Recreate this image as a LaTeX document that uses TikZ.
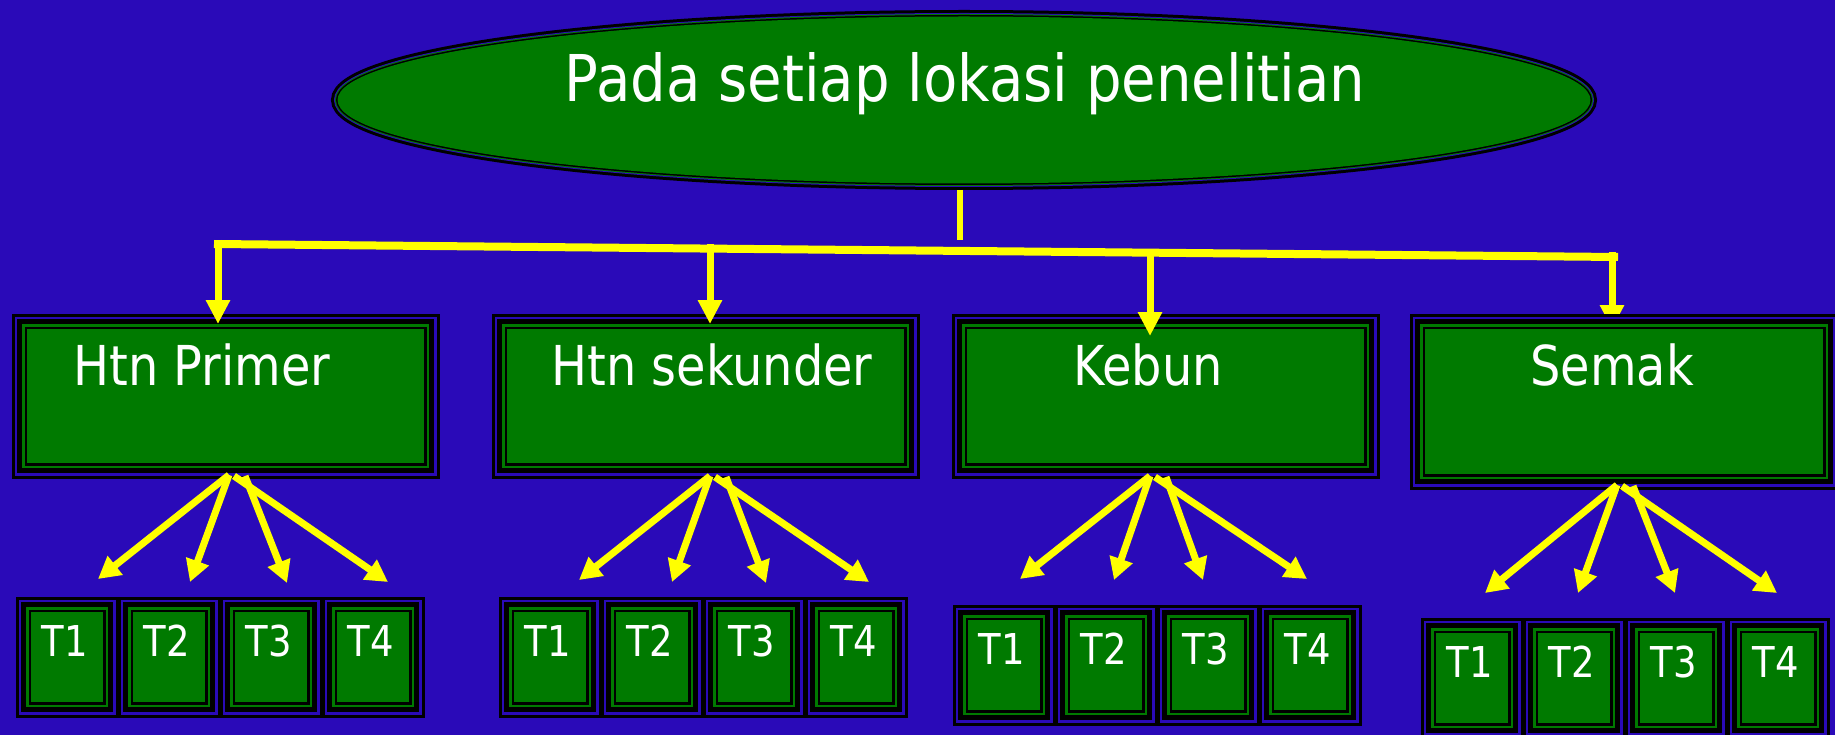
\documentclass[tikz,border=0pt]{standalone}
\usepackage{fontspec}
\setmainfont{DejaVu Sans}[FakeStretch=0.87]
\usetikzlibrary{shapes.geometric,arrows.meta,calc}

\definecolor{bgblue}{RGB}{42,10,184}
\definecolor{boxgreen}{RGB}{0,122,0}
\definecolor{lineyellow}{RGB}{255,255,0}

\pgfdeclarelayer{backdrop}
\pgfdeclarelayer{under}
\pgfsetlayers{backdrop,under,main}

\tikzset{
  % green box with a layered black / green / black / gap / black frame
  framed/.style={rectangle, inner sep=0pt, outer sep=0pt, fill=boxgreen,
    anchor=north west,
    preaction={draw=black, line width=31pt},
    preaction={draw=bgblue, line width=25pt},
    preaction={draw=black, line width=20pt},
    preaction={draw=boxgreen, line width=10pt},
    preaction={draw=black, line width=5pt}},
  mainbox/.style={framed, minimum width=397pt, minimum height=134pt},
  tbox/.style={framed, minimum width=72pt, minimum height=90pt},
  ellframe/.style={ellipse, inner sep=0pt, outer sep=0pt, fill=boxgreen,
    minimum width=1253pt, minimum height=167pt,
    preaction={draw=black, line width=13pt},
    preaction={draw=bgblue, line width=7pt},
    preaction={draw=boxgreen, line width=5pt},
    preaction={draw=black, line width=3pt}},
  lbl/.style={text=white, inner sep=0pt, anchor=base},
  titlefont/.style={font=\fontsize{64.5}{70}\selectfont},
  boxfont/.style={font=\fontsize{55}{60}\selectfont},
  tfont/.style={font=\fontsize{42.5}{46}\selectfont},
  conn/.style={draw=lineyellow, line width=8pt},
  stubline/.style={draw=lineyellow, line width=6pt},
  varrow/.style={draw=lineyellow, line width=7pt,
    -{Triangle[length=24pt, width=23pt]}},
  farrow/.style={draw=lineyellow, line width=7pt,
    -{Triangle[length=22pt, width=23pt]}}
}

\begin{document}
\begin{tikzpicture}[x=1pt, y=-1pt]
  \useasboundingbox (0,0) rectangle (1835,735);
  \begin{pgfonlayer}{backdrop}
    \fill[bgblue] (0,0) rectangle (1835,735);
  \end{pgfonlayer}

  % top ellipse
  \node[ellframe] (el) at (964,100) {};
  \node[lbl, titlefont] (eltext) at (965,102) {Pada setiap lokasi penelitian};

  % second level boxes
  \node[mainbox] (b1) at (27,329) {};
  \node[mainbox] (b2) at (507,329) {};
  \node[mainbox] (b3) at (967,329) {};
  \node[mainbox, minimum width=398pt, minimum height=145pt] (b4) at (1425,329) {};

  % third level boxes T1..T4 under each second level box
  \foreach \r/\x/\y in {1/31/612, 2/514/612, 3/968/620, 4/1436/633} {
    \foreach \c in {1,...,4} {
      \node[tbox] (t\r\c) at ({\x+102*(\c-1)},\y) {};
      \node[lbl, tfont] (tl\r\c) at ($(t\r\c.north)+(-2.5,44.5)$) {T\c};
    }
  }

  % distribution line from the ellipse to the four boxes
  \coordinate (s1) at (960,190);
  \coordinate (s2) at (960,240);
  \draw[stubline] (s1) -- (s2);
  \coordinate (hl) at (214,244);
  \coordinate (hr) at (1618,257);
  \draw[conn] (hl) -- (hr);

  \coordinate (v1) at (218,240);
  \coordinate (v2) at (710,244);
  \coordinate (v3) at (1150,252);
  \coordinate (v4) at (1612,252);
  \draw[varrow] (v1) -- ($(v1 |- b1.north)+(0,-5)$);
  \draw[varrow] (v2) -- ($(v2 |- b2.north)+(0,-5)$);
  \draw[varrow] (v3) -- ($(v3 |- b3.north)+(0,7)$);
  % this one runs in under the frame of the last box
  \begin{pgfonlayer}{under}
    \draw[varrow] (v4) -- (v4 |- b4.north);
  \end{pgfonlayer}

  % fan-out arrows from each box towards its T row
  \coordinate (o1) at (229,475);
  \coordinate (o2) at (710,476);
  \coordinate (o3) at (1150,476);
  \coordinate (o4) at (1617,485);

  \coordinate (p11) at (98,579);   \coordinate (p12) at (190,582);
  \coordinate (p13) at (287,583);  \coordinate (p14) at (388,582);
  \coordinate (p21) at (579,580);  \coordinate (p22) at (672,582);
  \coordinate (p23) at (766,583);  \coordinate (p24) at (869,582);
  \coordinate (p31) at (1020,579); \coordinate (p32) at (1114,580);
  \coordinate (p33) at (1203,580); \coordinate (p34) at (1307,579);
  \coordinate (p41) at (1485,593); \coordinate (p42) at (1578,593);
  \coordinate (p43) at (1675,593); \coordinate (p44) at (1777,593);

  \foreach \r in {1,2,3,4} {
    \draw[farrow] (o\r) -- (p\r1);
    \draw[farrow] (o\r) -- (p\r2);
    \draw[farrow] ($(o\r)+(16,1)$) -- (p\r3);
    \draw[farrow] ($(o\r)+(5,1)$) -- (p\r4);
  }

  % box captions
  \node[lbl, boxfont] (b1l) at (202,385) {Htn Primer};
  \node[lbl, boxfont] (b2l) at (712,385) {Htn sekunder};
  \node[lbl, boxfont] (b3l) at (1148,385) {Kebun};
  \node[lbl, boxfont] (b4l) at (1612,385) {Semak};
\end{tikzpicture}
\end{document}
